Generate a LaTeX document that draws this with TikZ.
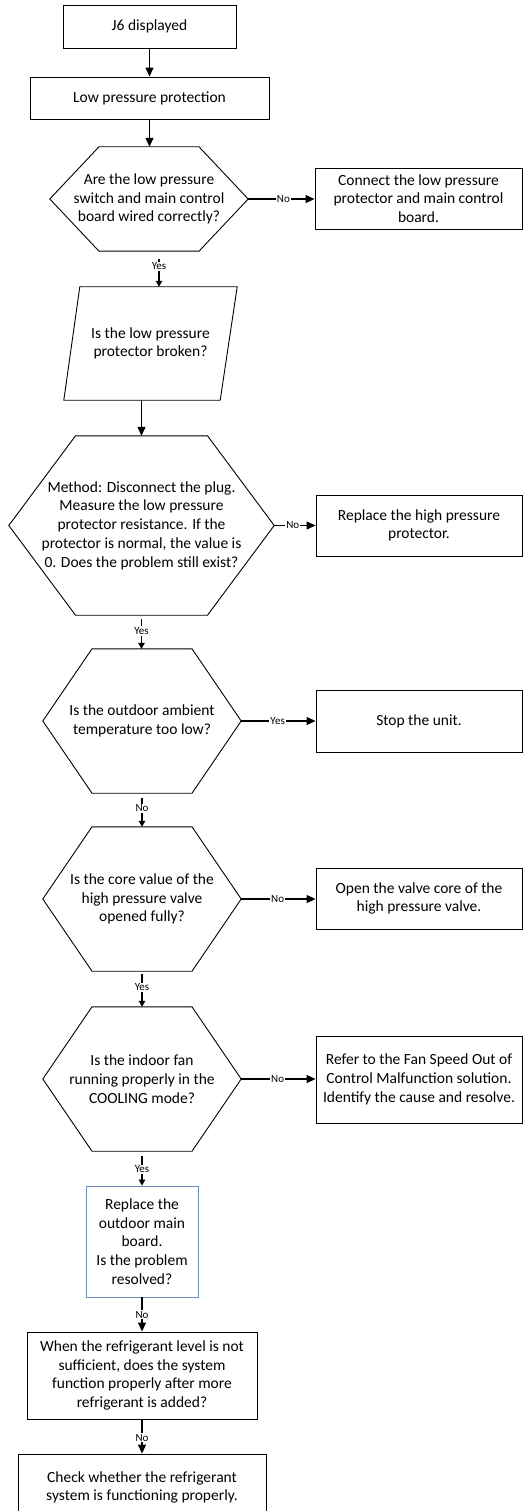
\documentclass[tikz,border=0pt]{standalone}
\usepackage{fontspec}
\setmainfont{Carlito}
\usetikzlibrary{arrows.meta}
\definecolor{bluebox}{RGB}{108,142,191}
\tikzset{
  base/.style={inner sep=0pt, align=center, font=\fontsize{15.5}{18.7}\selectfont},
  boxnode/.style={base, draw, line width=0.9pt},
  bluenode/.style={base, draw=bluebox, line width=0.9pt},
  shapenode/.style={base, draw=none},
  outline/.style={line width=0.9pt, line join=miter},
  conn/.style={line width=1.1pt, -{Triangle[length=9pt,width=8pt]}},
  sconn/.style={line width=1.1pt, -{Triangle[length=6pt,width=6.5pt]}},
  lab/.style={fill=white, inner sep=1pt, font=\fontsize{11}{12}\selectfont},
}
\newcommand{\hexoutline}[2]{%
  \draw[outline] (#1.west) -- ([xshift=-#2]#1.north) -- ([xshift=#2]#1.north) -- (#1.east)
    -- ([xshift=#2]#1.south) -- ([xshift=-#2]#1.south) -- cycle;}
\begin{document}
\begin{tikzpicture}[x=1pt,y=-1pt]
\useasboundingbox (0,0) rectangle (523,1511);
% nodes
\node[boxnode, minimum width=173pt, minimum height=43pt] (j6) at (149.5,26.5) {J6 displayed};
\node[boxnode, minimum width=239pt, minimum height=42pt] (lp) at (149.5,98) {Low pressure protection};
\node[shapenode, minimum width=198pt, minimum height=104pt] (h1) at (149,199)
  {Are the low pressure\\switch and main control\\board wired correctly?};
\hexoutline{h1}{50pt}
\node[boxnode, minimum width=207pt, minimum height=61pt] (b1) at (418.5,198.5)
  {Connect the low pressure\\protector and main control\\board.};
\node[shapenode, minimum width=173pt, minimum height=113pt] (para) at (150.5,343.5)
  {Is the low pressure\\protector broken?};
\draw[outline] (para.south west) -- ([xshift=16pt]para.north west) -- (para.north east)
  -- ([xshift=-17pt]para.south east) -- cycle;
\node[shapenode, minimum width=265pt, minimum height=179pt] (h2) at (141.5,525.5)
  {Method: Disconnect the plug.\\Measure the low pressure\\protector resistance. If the\\protector is normal, the value is\\0. Does the problem still exist?};
\hexoutline{h2}{66pt}
\node[boxnode, minimum width=206pt, minimum height=61pt] (b2) at (419,525.5)
  {Replace the high pressure\\protector.};
\node[shapenode, minimum width=198pt, minimum height=144pt] (h3) at (142,721)
  {Is the outdoor ambient\\temperature too low?};
\hexoutline{h3}{50pt}
\node[boxnode, minimum width=206pt, minimum height=62pt] (b3) at (419,721) {Stop the unit.};
\node[shapenode, minimum width=198pt, minimum height=144pt] (h4) at (142,899)
  {Is the core value of the\\high pressure valve\\opened fully?};
\hexoutline{h4}{50pt}
\node[boxnode, minimum width=206pt, minimum height=61pt] (b4) at (419,898.5)
  {Open the valve core of the\\high pressure valve.};
\node[shapenode, minimum width=198pt, minimum height=144pt] (h5) at (142,1079)
  {Is the indoor fan\\running properly in the\\COOLING mode?};
\hexoutline{h5}{50pt}
\node[boxnode, minimum width=206pt, minimum height=87pt] (b5) at (419,1079.5)
  {Refer to the Fan Speed Out of\\Control Malfunction solution.\\Identify the cause and resolve.};
\node[bluenode, minimum width=112pt, minimum height=111pt] (rb) at (142,1241.5)
  {Replace the\\outdoor main\\board.\\Is the problem\\resolved?};
\node[boxnode, minimum width=230pt, minimum height=87pt] (b6) at (142,1375.5)
  {When the refrigerant level is not\\sufficient, does the system\\function properly after more\\refrigerant is added?};
\node[boxnode, minimum width=248pt, minimum height=67pt] (b7) at (142,1487.5)
  {Check whether the refrigerant\\system is functioning properly.};
% connectors
\draw[conn] (j6.south) -- (j6.south |- lp.north);
\draw[conn] (lp.south) -- (lp.south |- h1.north);
\draw[sconn, shorten <=8pt] ([xshift=10pt]h1.south) -- ([xshift=10pt]h1.south |- para.north)
  node[lab, pos=0.43] {Yes};
\draw[conn] (para.south -| h2.north) -- (h2.north);
\draw[sconn, shorten <=4pt] (h2.south) -- (h2.south |- h3.north) node[lab, pos=0.47] {Yes};
\draw[sconn, shorten <=5pt] (h3.south) -- (h4.north) node[lab, pos=0.45] {No};
\draw[sconn, shorten <=3pt] (h4.south) -- (h5.north) node[lab, pos=0.45] {Yes};
\draw[sconn, shorten <=5pt] (h5.south) -- (rb.north) node[lab, pos=0.53] {Yes};
\draw[conn] (rb.south) -- (b6.north) node[lab, pos=0.51] {No};
\draw[conn] (b6.south) -- (b7.north) node[lab, pos=0.54] {No};
\draw[conn] (h1.east) -- (h1.east -| b1.west) node[lab, pos=0.53] {No};
\draw[conn] (h2.east) -- (h2.east -| b2.west) node[lab, pos=0.45] {No};
\draw[conn] (h3.east) -- (h3.east -| b3.west) node[lab, pos=0.49] {Yes};
\draw[conn] (h4.east) -- (h4.east -| b4.west) node[lab, pos=0.49] {No};
\draw[conn] (h5.east) -- (h5.east -| b5.west) node[lab, pos=0.49] {No};
\end{tikzpicture}
\end{document}
